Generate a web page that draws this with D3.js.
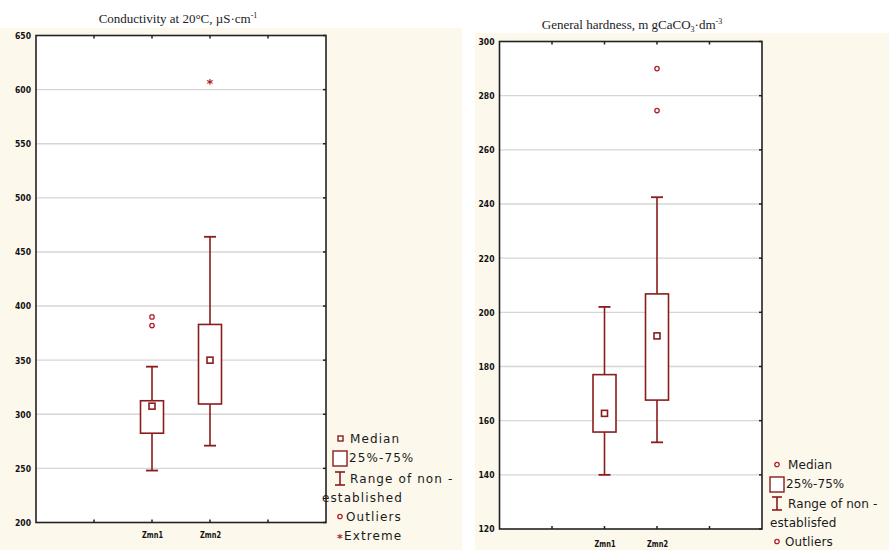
<!DOCTYPE html>
<html>
<head>
<meta charset="utf-8">
<script src="https://cdnjs.cloudflare.com/ajax/libs/d3/7.8.5/d3.min.js"></script>
<style>
  html, body { margin: 0; padding: 0; background: #fff; }
  svg { display: block; }
</style>
</head>
<body>
<svg id="chart" width="889" height="550"></svg>
<script>
// ---- data ----
var categories = ["Zmn1", "Zmn2"];

var condTicks    = [200, 250, 300, 350, 400, 450, 500, 550, 600, 650];
var condMin      = [248, 271];
var condQ1       = [282.5, 309.5];
var condMedian   = [307.5, 350];
var condQ3       = [312.5, 383];
var condMax      = [344, 464];
var condOutliers = [[390, 382], []];
var condExtremes = [[], [607]];

var hardTicks    = [120, 140, 160, 180, 200, 220, 240, 260, 280, 300];
var hardMin      = [140, 152];
var hardQ1       = [155.8, 167.6];
var hardMedian   = [162.7, 191.3];
var hardQ3       = [177, 206.8];
var hardMax      = [202, 242.5];
var hardOutliers = [[], [290, 274.5]];
var hardExtremes = [[], []];

var svg = d3.select("#chart");
var dark = "#8a1c1c", red = "#b0202a";

// panel backgrounds
svg.append("rect").attr("x", 0).attr("y", 28).attr("width", 462).attr("height", 522).attr("fill", "#fdf8ec");
svg.append("rect").attr("x", 475).attr("y", 33).attr("width", 414).attr("height", 517).attr("fill", "#fdf8ec");

function drawPanel(cfg) {
    var g = svg.append("g");
    var x = d3.scaleLinear().domain([0, 5]).range([cfg.left, cfg.right]);
    var y = d3.scaleLinear().domain([cfg.ticks[0], cfg.ticks[cfg.ticks.length - 1]]).range([cfg.bottom, cfg.top]);

    g.append("rect")
        .attr("x", cfg.left).attr("y", cfg.top)
        .attr("width", cfg.right - cfg.left).attr("height", cfg.bottom - cfg.top)
        .attr("fill", "#fff");

    // grid
    g.selectAll("line.grid").data(cfg.ticks.slice(1, -1)).enter().append("line")
        .attr("x1", cfg.left).attr("x2", cfg.right)
        .attr("y1", function(d) { return y(d); }).attr("y2", function(d) { return y(d); })
        .attr("stroke", "#d6d6d6").attr("stroke-width", 1.4);

    // y axis labels
    var yAxis = d3.axisLeft(y).tickValues(cfg.ticks).tickSize(0).tickPadding(5);
    var ya = g.append("g").attr("transform", "translate(" + cfg.left + ",0)").call(yAxis);
    ya.select(".domain").remove();
    ya.selectAll("text")
        .attr("font-family", "'Liberation Sans Narrow', 'DejaVu Sans Condensed', sans-serif")
        .attr("font-weight", "bold").attr("font-size", 9).attr("fill", "#111")
        .attr("textLength", 16).attr("lengthAdjust", "spacingAndGlyphs");

    // right side inner ticks
    g.selectAll("line.rt").data(cfg.ticks).enter().append("line")
        .attr("x1", cfg.right - 3).attr("x2", cfg.right)
        .attr("y1", function(d) { return y(d); }).attr("y2", function(d) { return y(d); })
        .attr("stroke", "#222").attr("stroke-width", 1.5);

    // x ticks top and bottom
    var xt = [1, 2, 3, 4];
    g.selectAll("line.bt").data(xt).enter().append("line")
        .attr("x1", function(d) { return x(d); }).attr("x2", function(d) { return x(d); })
        .attr("y1", cfg.bottom).attr("y2", cfg.bottom - 3)
        .attr("stroke", "#222").attr("stroke-width", 1.5);
    g.selectAll("line.tt").data(xt).enter().append("line")
        .attr("x1", function(d) { return x(d); }).attr("x2", function(d) { return x(d); })
        .attr("y1", cfg.top).attr("y2", cfg.top + 3)
        .attr("stroke", "#222").attr("stroke-width", 1.5);

    // x labels
    var xAxis = d3.axisBottom(x).tickValues([2, 3]).tickSize(0).tickPadding(cfg.labelPad)
        .tickFormat(function(d) { return categories[d - 2]; });
    var xa = g.append("g").attr("transform", "translate(0," + cfg.bottom + ")").call(xAxis);
    xa.select(".domain").remove();
    xa.selectAll("text")
        .attr("font-family", "'Liberation Sans Narrow', 'DejaVu Sans Condensed', sans-serif")
        .attr("font-weight", "bold").attr("font-size", 9).attr("fill", "#111")
        .attr("textLength", 21).attr("lengthAdjust", "spacingAndGlyphs");

    // boxes
    var bw = 23, cw = 12;
    categories.forEach(function(c, i) {
        var cx = x(i + 2);
        g.append("line").attr("x1", cx).attr("x2", cx)
            .attr("y1", y(cfg.max[i])).attr("y2", y(cfg.q3[i]))
            .attr("stroke", dark).attr("stroke-width", 1.6);
        g.append("line").attr("x1", cx).attr("x2", cx)
            .attr("y1", y(cfg.q1[i])).attr("y2", y(cfg.min[i]))
            .attr("stroke", dark).attr("stroke-width", 1.6);
        [cfg.max[i], cfg.min[i]].forEach(function(v) {
            g.append("line").attr("x1", cx - cw / 2).attr("x2", cx + cw / 2)
                .attr("y1", y(v)).attr("y2", y(v))
                .attr("stroke", dark).attr("stroke-width", 1.8);
        });
        g.append("rect")
            .attr("x", cx - bw / 2).attr("y", y(cfg.q3[i]))
            .attr("width", bw).attr("height", y(cfg.q1[i]) - y(cfg.q3[i]))
            .attr("fill", "#fff").attr("stroke", dark).attr("stroke-width", 1.6);
        g.append("rect")
            .attr("x", cx - 3).attr("y", y(cfg.median[i]) - 3)
            .attr("width", 6).attr("height", 6)
            .attr("fill", "#fff").attr("stroke", dark).attr("stroke-width", 1.6);
        cfg.outliers[i].forEach(function(v) {
            g.append("circle").attr("cx", cx).attr("cy", y(v)).attr("r", 2.2)
                .attr("fill", "#fff").attr("stroke", red).attr("stroke-width", 1.3);
        });
        cfg.extremes[i].forEach(function(v) {
            g.append("text").attr("x", cx).attr("y", y(v) + 6)
                .attr("text-anchor", "middle").attr("font-family", "DejaVu Sans")
                .attr("font-size", 13).attr("font-weight", "bold").attr("fill", red).text("*");
        });
    });

    // frame
    g.append("rect")
        .attr("x", cfg.left).attr("y", cfg.top)
        .attr("width", cfg.right - cfg.left).attr("height", cfg.bottom - cfg.top)
        .attr("fill", "none").attr("stroke", "#222").attr("stroke-width", 1.6);

    // title
    var t = g.append("text").attr("x", cfg.titleX).attr("y", cfg.titleY)
        .attr("text-anchor", "middle")
        .attr("font-family", "'Liberation Serif', serif").attr("font-size", 13).attr("fill", "#222");
    cfg.title.forEach(function(p) {
        var s = t.append("tspan").text(p.t);
        if (p.sup) s.attr("dy", -5).attr("font-size", 8);
        if (p.sub) s.attr("dy", 3).attr("font-size", 8);
        if (p.back) s.attr("dy", p.back);
    });

    return {x: x, y: y};
}

drawPanel({
    left: 36, right: 326, top: 35.5, bottom: 522.5, labelPad: 9,
    ticks: condTicks, min: condMin, q1: condQ1, median: condMedian, q3: condQ3, max: condMax,
    outliers: condOutliers, extremes: condExtremes,
    titleX: 178, titleY: 23,
    title: [{t: "Conductivity at 20°C, µS·cm"}, {t: "-1", sup: true}]
});

drawPanel({
    left: 499.5, right: 762, top: 41.5, bottom: 529, labelPad: 12,
    ticks: hardTicks, min: hardMin, q1: hardQ1, median: hardMedian, q3: hardQ3, max: hardMax,
    outliers: hardOutliers, extremes: hardExtremes,
    titleX: 632, titleY: 29,
    title: [{t: "General hardness, m gCaCO"}, {t: "3", sub: true}, {t: "·dm", back: -3}, {t: "-3", sup: true}]
});

// legends
function legend(items, lx, ly, spacing) {
    var lg = svg.append("g").attr("transform", "translate(" + lx + "," + ly + ")");
    items.forEach(function(it) {
        var row = lg.append("g").attr("transform", "translate(0," + it.y + ")");
        if (it.sym === "median") {
            row.append("rect").attr("x", 2).attr("y", -7).attr("width", 5).attr("height", 5)
                .attr("fill", "#fff").attr("stroke", dark).attr("stroke-width", 1.4);
        } else if (it.sym === "circle") {
            row.append("circle").attr("cx", 4).attr("cy", -4.5).attr("r", 2.2)
                .attr("fill", "#fff").attr("stroke", red).attr("stroke-width", 1.3);
        } else if (it.sym === "box") {
            row.append("rect").attr("x", -3).attr("y", -11).attr("width", 14).attr("height", 15)
                .attr("fill", "#fff").attr("stroke", dark).attr("stroke-width", 1.4);
        } else if (it.sym === "whisker") {
            row.append("line").attr("x1", -1).attr("x2", 9).attr("y1", -11).attr("y2", -11)
                .attr("stroke", dark).attr("stroke-width", 1.6);
            row.append("line").attr("x1", 4).attr("x2", 4).attr("y1", -11).attr("y2", 2)
                .attr("stroke", dark).attr("stroke-width", 1.6);
            row.append("line").attr("x1", -1).attr("x2", 9).attr("y1", 2).attr("y2", 2)
                .attr("stroke", dark).attr("stroke-width", 1.6);
        } else if (it.sym === "star") {
            row.append("text").attr("x", 1).attr("y", 2).attr("font-family", "DejaVu Sans")
                .attr("font-size", 11).attr("font-weight", "bold").attr("fill", red).text("*");
        }
        row.append("text").attr("x", it.tx).attr("y", 0)
            .attr("font-family", "'DejaVu Sans', Verdana, sans-serif").attr("font-size", 12)
            .attr("fill", "#1a1a1a").attr("letter-spacing", spacing).text(it.label);
    });
}

legend([
    {sym: "median", label: "Median", y: 0, tx: 14},
    {sym: "box", label: "25%-75%", y: 19, tx: 13},
    {sym: "whisker", label: "Range of non -", y: 40, tx: 14},
    {sym: null, label: "established", y: 59, tx: -14},
    {sym: "circle", label: "Outliers", y: 78, tx: 10},
    {sym: "star", label: "Extreme", y: 97, tx: 8}
], 336, 443, 1.1);

legend([
    {sym: "circle", label: "Median", y: 0, tx: 15},
    {sym: "box", label: "25%-75%", y: 19, tx: 13},
    {sym: "whisker", label: "Range of non -", y: 39, tx: 15},
    {sym: null, label: "establisfed", y: 58, tx: -3},
    {sym: "circle", label: "Outliers", y: 77, tx: 12}
], 773, 469, 0.1);
</script>
</body>
</html>
